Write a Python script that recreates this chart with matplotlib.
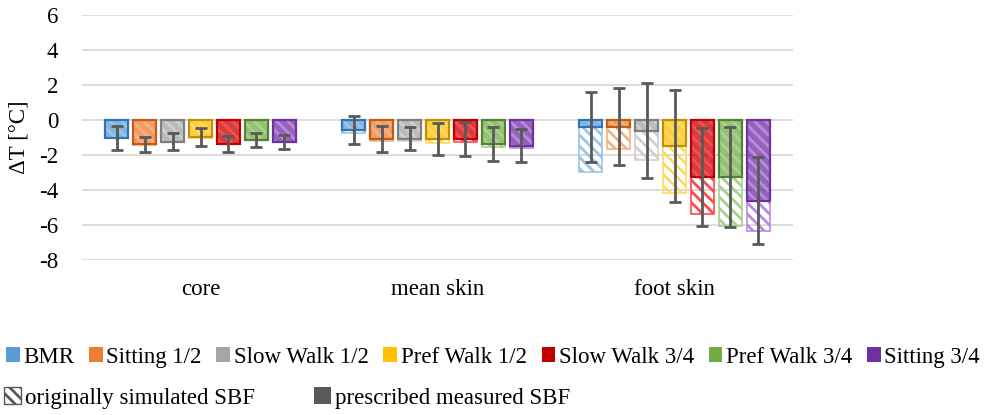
import matplotlib.pyplot as plt
import numpy as np
from matplotlib.patches import Patch

plt.rcParams['font.family'] = ['Liberation Serif', 'DejaVu Serif']
plt.rcParams['hatch.linewidth'] = 2.0
plt.rcParams['axes.unicode_minus'] = False

categories = ['core', 'mean skin', 'foot skin']
series = ['BMR', 'Sitting 1/2', 'Slow Walk 1/2', 'Pref Walk 1/2',
          'Slow Walk 3/4', 'Pref Walk 3/4', 'Sitting 3/4']

# prescribed measured SBF (solid bars), per series: core, mean skin, foot skin
measured = [
    [-1.03, -0.55, -0.40],
    [-1.39, -1.08, -0.37],
    [-1.24, -1.06, -0.60],
    [-0.98, -1.07, -1.49],
    [-1.35, -1.08, -3.27],
    [-1.12, -1.35, -3.27],
    [-1.26, -1.47, -4.61],
]
# originally simulated SBF (hatched bars)
simulated = [
    [-1.05, -0.74, -2.99],
    [-1.40, -1.20, -1.66],
    [-1.25, -1.20, -2.29],
    [-1.00, -1.30, -4.19],
    [-1.36, -1.24, -5.37],
    [-1.13, -1.54, -6.06],
    [-1.27, -1.58, -6.32],
]
# error bar half widths (around measured value)
errors = [
    [0.69, 0.79, 2.00],
    [0.42, 0.72, 2.20],
    [0.49, 0.66, 2.74],
    [0.52, 0.90, 3.20],
    [0.46, 0.95, 2.81],
    [0.41, 0.97, 2.86],
    [0.42, 0.95, 2.50],
]

colors = ['#5B9BD5', '#ED7D31', '#A5A5A5', '#FFC000', '#C00000', '#70AD47', '#7030A0']
dark = ['#2E75B6', '#C55A11', '#7F7F7F', '#BF9000', '#C00000', '#548235', '#7030A0']
light = ['#9DC3E6', '#F4B183', '#CFCFCF', '#FFD966', '#FF4B4B', '#A9D18E', '#B88BE0']

fig = plt.figure(figsize=(9.93, 4.15), dpi=100)
ax = fig.add_axes([0.0826, 0.3735, 0.716, 0.590])

x = np.arange(len(categories))
pitch = 0.118
width = 0.097

for i in range(len(series)):
    pos = x + (i - 3) * pitch
    ax.bar(pos, measured[i], width, color=colors[i], alpha=0.75, linewidth=0, zorder=2)
    ax.bar(pos, simulated[i], width, facecolor='none', edgecolor=light[i],
           hatch='\\\\\\', linewidth=1.2, zorder=3)
    ax.bar(pos, measured[i], width, facecolor='none', edgecolor=dark[i],
           linewidth=1.6, zorder=4)
    ax.errorbar(pos, measured[i], yerr=errors[i], fmt='none', ecolor='#595959',
                elinewidth=2, capsize=4, capthick=2, zorder=5)

ax.set_xlim(-0.5, 2.5)
ax.set_ylim(-8, 6)
ax.set_yticks(np.arange(-8, 7, 2))
ax.set_xticks(x)
ax.set_xticklabels(categories)
ax.yaxis.grid(True, color='#D9D9D9', linewidth=1.3)
ax.set_axisbelow(True)
for s in ax.spines.values():
    s.set_visible(False)
ax.tick_params(axis='y', length=0, pad=17, labelsize=16.5)
ax.tick_params(axis='x', length=0, pad=14, labelsize=16.5)
ax.set_ylabel('ΔT [°C]', fontsize=16.5, labelpad=7)

handles = [Patch(facecolor=c, edgecolor='none') for c in colors]
fig.legend(handles, series, loc='center left', bbox_to_anchor=(0.006, 1 - 357 / 415),
           ncol=7, frameon=False, fontsize=16.5, handlelength=0.6, handleheight=0.6,
           handletextpad=0.15, columnspacing=0.65, borderpad=0, borderaxespad=0)

handles2 = [Patch(facecolor='white', edgecolor='#595959', hatch='\\\\\\'),
            Patch(facecolor='#595959', edgecolor='none')]
fig.legend(handles2, ['originally simulated SBF', 'prescribed measured SBF'],
           loc='center left', bbox_to_anchor=(0.004, 1 - 398 / 415),
           ncol=2, frameon=False, fontsize=16.5, handlelength=0.75, handleheight=0.75,
           handletextpad=0.15, columnspacing=2.6, borderpad=0, borderaxespad=0)

plt.savefig('out.png', dpi=100)
